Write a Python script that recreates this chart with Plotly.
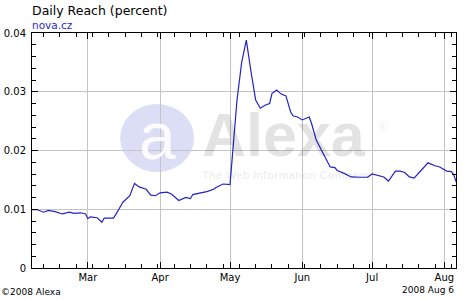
import plotly.graph_objects as go

dates = [
    "2008-02-06", "2008-02-08", "2008-02-11", "2008-02-13", "2008-02-16", "2008-02-19",
    "2008-02-22", "2008-02-24", "2008-02-27", "2008-02-29", "2008-03-01", "2008-03-02",
    "2008-03-05", "2008-03-07", "2008-03-08", "2008-03-12", "2008-03-14", "2008-03-16",
    "2008-03-19", "2008-03-21", "2008-03-23", "2008-03-26", "2008-03-28", "2008-03-30",
    "2008-04-01", "2008-04-04", "2008-04-06", "2008-04-09", "2008-04-12", "2008-04-14",
    "2008-04-15", "2008-04-18", "2008-04-21", "2008-04-24", "2008-04-25", "2008-04-28",
    "2008-05-01", "2008-05-02", "2008-05-04", "2008-05-06", "2008-05-08", "2008-05-10",
    "2008-05-12", "2008-05-14", "2008-05-16", "2008-05-18", "2008-05-19", "2008-05-21",
    "2008-05-23", "2008-05-25", "2008-05-27", "2008-05-28", "2008-05-30", "2008-06-01",
    "2008-06-04", "2008-06-05", "2008-06-07", "2008-06-10", "2008-06-13", "2008-06-15",
    "2008-06-16", "2008-06-19", "2008-06-22", "2008-06-26", "2008-06-29", "2008-07-01",
    "2008-07-04", "2008-07-06", "2008-07-08", "2008-07-11", "2008-07-13", "2008-07-15",
    "2008-07-17", "2008-07-19", "2008-07-22", "2008-07-25", "2008-07-28", "2008-07-30",
    "2008-08-02", "2008-08-04", "2008-08-05", "2008-08-06",
]
reach = [
    0.00995, 0.00995, 0.0095, 0.0098, 0.0096, 0.0092,
    0.0095, 0.0093, 0.0094, 0.0092, 0.0084, 0.0087,
    0.00855, 0.0078, 0.0085, 0.0085, 0.0098, 0.0112,
    0.0123, 0.0144, 0.0138, 0.0134, 0.0124, 0.0123,
    0.0128, 0.0129, 0.01256, 0.0115, 0.0120, 0.0118,
    0.0125, 0.0127, 0.0130, 0.0134, 0.0137, 0.0143,
    0.0142, 0.0190, 0.0286, 0.0350, 0.0388, 0.0334,
    0.0286, 0.0272, 0.0277, 0.0280, 0.0297, 0.0303,
    0.0296, 0.0293, 0.0266, 0.0259, 0.0257, 0.0252,
    0.0257, 0.0246, 0.0218, 0.0195, 0.0172, 0.0171,
    0.0166, 0.0161, 0.0155, 0.01545, 0.01545, 0.0160,
    0.0157, 0.0155, 0.0148, 0.0165, 0.0165, 0.01625,
    0.0155, 0.0153, 0.0166, 0.0179, 0.0174, 0.0172,
    0.0165, 0.0164, 0.0159, 0.0147,
]
y_ticks = [0, 0.01, 0.02, 0.03, 0.04]
y_labels = ["0", "0.01", "0.02", "0.03", "0.04"]

FONT = "DejaVu Sans, Verdana, sans-serif"

fig = go.Figure()
fig.add_trace(go.Scatter(
    x=dates, y=reach, mode="lines",
    line=dict(color="#2323c8", width=1.2),
    hoverinfo="x+y", showlegend=False,
))

axis_common = dict(
    showline=True, linecolor="black", linewidth=1, mirror="ticks",
    ticks="inside", tickcolor="black", ticklen=6, tickwidth=1,
    showgrid=True, gridcolor="#c4c4c4", gridwidth=1, zeroline=False,
    automargin=False,
    tickfont=dict(family=FONT, size=10, color="black"),
)

fig.update_xaxes(
    type="date", range=["2008-02-06", "2008-08-06"],
    tick0="2008-03-01", dtick="M1", tickformat="%b",
    minor=dict(ticks="inside", ticklen=4, tickcolor="black", dtick=7 * 86400000,
               tick0="2008-02-11", showgrid=False),
    **axis_common,
)
fig.update_yaxes(
    range=[0, 0.04], tickvals=y_ticks, ticktext=y_labels,
    ticklabelstandoff=3,
    minor=dict(ticks="inside", ticklen=4, tickcolor="black", dtick=0.002,
               tick0=0, showgrid=False),
    **axis_common,
)

# Watermark (background decoration)
fig.add_shape(type="circle", xref="paper", yref="paper", layer="below",
              xsizemode="pixel", ysizemode="pixel", xanchor=0.295, yanchor=0.553,
              x0=-37, x1=37, y0=-34, y1=34,
              fillcolor="#dcdef6", line=dict(width=0))

annotations = [
    dict(text="a", x=0.295, y=0.56, font=dict(family="Liberation Sans", size=66, color="rgba(255,255,255,0.9)"),
         xanchor="center", yanchor="middle"),
    dict(text="<b>Alexa</b>", x=0.397, y=0.565, font=dict(family="Liberation Sans", size=61, color="rgba(0,0,0,0.11)"),
         xanchor="left", yanchor="middle"),
    dict(text="®", x=0.812, y=0.60, font=dict(family="Liberation Sans", size=12, color="rgba(0,0,0,0.11)"),
         xanchor="left", yanchor="middle"),
    dict(text="<b>The Web Information Company</b>", x=0.397, y=0.395,
         font=dict(family="Liberation Sans", size=11.5, color="rgba(0,0,0,0.08)"),
         xanchor="left", yanchor="middle"),
    dict(text="Daily Reach (percent)", x=-0.005, y=1.095, font=dict(family=FONT, size=12.5, color="black"),
         xanchor="left", yanchor="middle"),
    dict(text="nova.cz", x=-0.005, y=1.036, font=dict(family=FONT, size=10.5, color="#2a2acc"),
         xanchor="left", yanchor="middle"),
    dict(text="©2008 Alexa", x=-0.078, y=-0.1, font=dict(family=FONT, size=9, color="black"),
         xanchor="left", yanchor="middle"),
    dict(text="2008 Aug 6", x=1.0, y=-0.095, font=dict(family=FONT, size=9, color="black"),
         xanchor="right", yanchor="middle"),
]
for a in annotations:
    a.update(xref="paper", yref="paper", showarrow=False)
fig.update_layout(annotations=annotations)

fig.update_layout(
    width=470, height=300,
    margin=dict(l=32, r=14, t=33, b=32),
    paper_bgcolor="white", plot_bgcolor="white",
    font=dict(family=FONT, size=10, color="black"),
)

fig.write_html("out.html", config={"displayModeBar": False})
